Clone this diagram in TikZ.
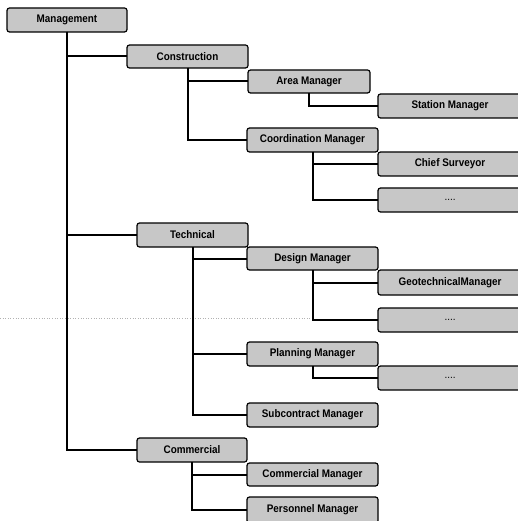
\documentclass[tikz,border=0pt]{standalone}
\usepackage{fontspec}
\setmainfont[FakeStretch=0.9]{Liberation Sans}
\usepackage{tikz}
\usetikzlibrary{calc}
\newcommand{\boxfont}{\fontsize{11}{12}\selectfont\bfseries}
\newcommand{\orgunit}[6]{
	\node[unit, minimum width={#4pt-#2pt}, minimum height={#5pt-#3pt}]
		(#1) at ({(#2+#4)/2},{(#3+#5)/2}) {#6};
}

\begin{document}
\begin{tikzpicture}[x=1pt,y=-1pt,
	unit/.style={draw=black, fill=black!22, rounded corners=2.5pt, line width=1.2pt,
		inner sep=0pt, outer sep=0pt, font=\boxfont},
	link/.style={line width=2pt}]
	\useasboundingbox (0,0) rectangle (518,521);

	% scan line
	\draw[gray!60, dotted, line width=0.6pt] (0,318) -- (312,318);

	\orgunit{mgmt}{7}{8}{127}{32}{Management}
	\orgunit{cons}{127}{45}{248}{68}{Construction}
	\orgunit{area}{248}{70}{370}{93}{Area Manager}
	\orgunit{stat}{378}{94}{522}{118}{Station Manager}
	\orgunit{coord}{247}{128}{378}{152}{Coordination Manager}
	\orgunit{chief}{378}{152}{522}{176}{Chief Surveyor}
	\orgunit{cdots}{378}{188}{522}{212}{\mdseries ....}
	\orgunit{tech}{137}{223}{248}{247}{Technical}
	\orgunit{design}{247}{247}{378}{270}{Design Manager}
	\orgunit{geo}{378}{270}{522}{295}{GeotechnicalManager}
	\orgunit{ddots}{378}{308}{522}{332}{\mdseries ....}
	\orgunit{plan}{247}{342}{378}{366}{Planning Manager}
	\orgunit{pdots}{378}{366}{522}{390}{\mdseries ....}
	\orgunit{sub}{247}{403}{378}{427}{Subcontract Manager}
	\orgunit{comm}{137}{438}{247}{462}{Commercial}
	\orgunit{cmgr}{247}{463}{378}{486}{Commercial Manager}
	\orgunit{pers}{247}{497}{378}{523}{Personnel Manager}

	\draw[link] (mgmt.south) |- (cons.west);
	\draw[link] (mgmt.south) |- (tech.west);
	\draw[link] (mgmt.south) |- (comm.west);

	\draw[link] (cons.south) |- (area.west);
	\draw[link] (cons.south) |- (coord.west);
	\draw[link] (area.south) |- (stat.west);
	\draw[link] (coord.south) |- (chief.west);
	\draw[link] (coord.south) |- (cdots.west);

	\draw[link] (tech.south) |- (design.west);
	\draw[link] (tech.south) |- (plan.west);
	\draw[link] (tech.south) |- (sub.west);
	\draw[link] (design.south) |- (geo.west);
	\draw[link] (design.south) |- (ddots.west);
	\draw[link] (plan.south) |- (pdots.west);

	\draw[link] (comm.south) |- (cmgr.west);
	\draw[link] (comm.south) |- (pers.west);
\end{tikzpicture}
\end{document}
